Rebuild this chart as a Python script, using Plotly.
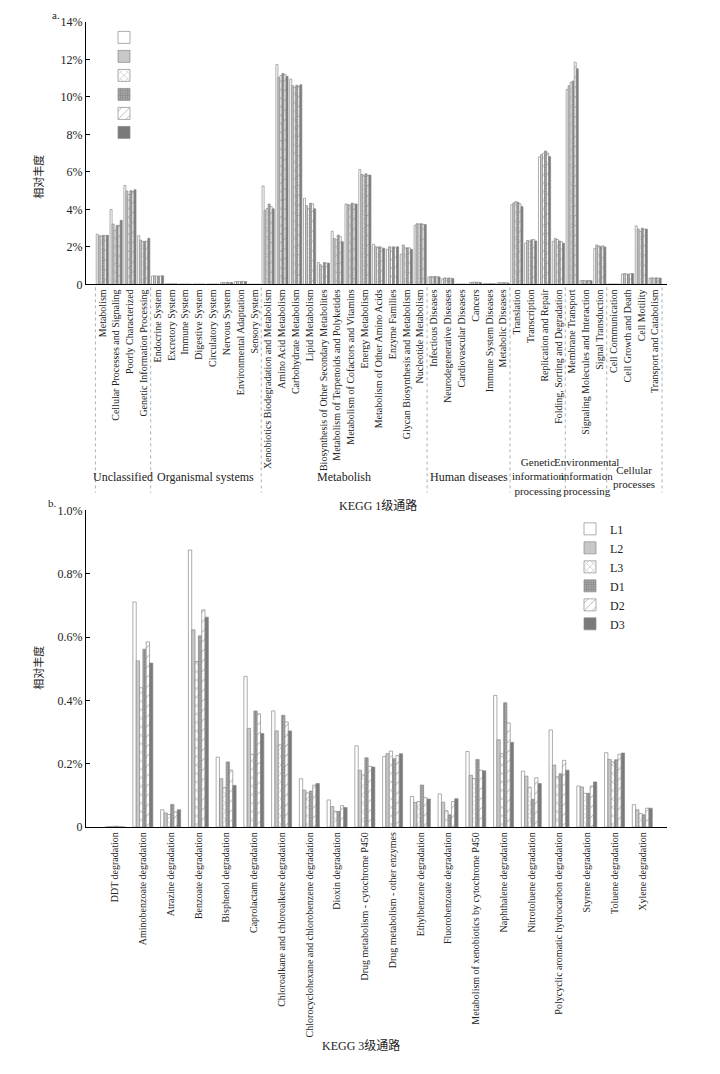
import plotly.graph_objects as go

# ---------------- data ----------------
series = ["L1", "L2", "L3", "D1", "D2", "D3"]

a_groups = ["Unclassified", "Organismal systems", "Metabolish", "Human diseases",
            "Genetic<br>information<br>processing", "Environmental<br>information<br>processing",
            "Cellular<br>processes"]
a_group_sizes = [4, 8, 12, 6, 4, 3, 4]
a_categories = [
    "Metabolism", "Cellular Processes and Signaling", "Poorly Characterized", "Genetic Information Processing",
    "Endocrine System", "Excretory System", "Immune System", "Digestive System", "Circulatory System",
    "Nervous System", "Environmental Adaptation", "Sensory System",
    "Xenobiotics Biodegradation and Metabolism", "Amino Acid Metabolism", "Carbohydrate Metabolism",
    "Lipid Metabolism", "Biosynthesis of Other Secondary Metabolites", "Metabolism of Terpenoids and Polyketides",
    "Metabolism of Cofactors and Vitamins", "Energy Metabolism", "Metabolism of Other Amino Acids",
    "Enzyme Families", "Glycan Biosynthesis and Metabolism", "Nucleotide Metabolism",
    "Infectious Diseases", "Neurodegenerative Diseases", "Cardiovascular Diseases", "Cancers",
    "Immune System Diseases", "Metabolic Diseases",
    "Translation", "Transcription", "Replication and Repair", "Folding, Sorting and Degradation",
    "Membrane Transport", "Signaling Molecules and Interaction", "Signal Transduction",
    "Cell Communication", "Cell Growth and Death", "Cell Motility", "Transport and Catabolism",
]
a_L1 = [2.68, 4.00, 5.28, 2.60, 0.45, 0.03, 0.02, 0.02, 0.02, 0.10, 0.15, 0.01,
        5.25, 11.73, 10.95, 4.59, 1.17, 2.84, 4.29, 6.13, 2.14, 1.87, 1.61, 3.15,
        0.40, 0.30, 0.02, 0.10, 0.04, 0.08, 4.25, 2.20, 6.80, 2.30, 10.40, 0.20, 1.92,
        0.02, 0.55, 3.12, 0.34]
a_L2 = [2.60, 3.22, 4.98, 2.36, 0.46, 0.03, 0.02, 0.02, 0.02, 0.09, 0.16, 0.01,
        3.94, 11.03, 10.60, 4.20, 1.05, 2.45, 4.26, 5.87, 2.01, 2.01, 2.10, 3.24,
        0.42, 0.35, 0.02, 0.11, 0.04, 0.09, 4.35, 2.35, 6.92, 2.45, 10.60, 0.21, 2.10,
        0.02, 0.58, 2.95, 0.35]
a_L3 = [2.58, 2.90, 4.80, 2.28, 0.44, 0.03, 0.02, 0.02, 0.02, 0.10, 0.15, 0.01,
        4.05, 11.15, 10.50, 4.05, 0.96, 2.38, 4.22, 5.80, 1.98, 1.95, 1.95, 3.22,
        0.41, 0.32, 0.02, 0.12, 0.04, 0.09, 4.42, 2.30, 7.00, 2.40, 10.78, 0.20, 2.05,
        0.02, 0.56, 2.82, 0.33]
a_D1 = [2.62, 3.15, 5.00, 2.30, 0.45, 0.03, 0.02, 0.02, 0.02, 0.11, 0.16, 0.01,
        4.29, 11.25, 10.62, 4.33, 1.17, 2.63, 4.33, 5.90, 2.01, 2.01, 1.95, 3.24,
        0.42, 0.34, 0.02, 0.12, 0.04, 0.09, 4.38, 2.38, 7.12, 2.32, 10.85, 0.20, 2.02,
        0.02, 0.55, 3.00, 0.35]
a_D2 = [2.60, 3.15, 4.95, 2.30, 0.45, 0.03, 0.02, 0.02, 0.02, 0.10, 0.16, 0.01,
        4.15, 11.20, 10.55, 4.30, 1.14, 2.55, 4.29, 5.82, 1.95, 1.95, 1.95, 3.20,
        0.41, 0.33, 0.02, 0.11, 0.04, 0.09, 4.30, 2.40, 7.00, 2.28, 11.85, 0.21, 2.06,
        0.02, 0.57, 2.95, 0.34]
a_D3 = [2.62, 3.42, 5.05, 2.46, 0.46, 0.03, 0.02, 0.02, 0.02, 0.10, 0.15, 0.01,
        4.03, 11.10, 10.65, 4.03, 1.14, 2.28, 4.29, 5.83, 1.93, 2.01, 1.87, 3.19,
        0.40, 0.31, 0.02, 0.10, 0.04, 0.08, 4.15, 2.32, 6.82, 2.20, 11.50, 0.20, 2.00,
        0.02, 0.58, 2.95, 0.34]
a_tickvals = [0, 2, 4, 6, 8, 10, 12, 14]
a_ticktext = ["0", "2%", "4%", "6%", "8%", "10%", "12%", "14%"]

b_categories = [
    "DDT degradation", "Aminobenzoate degradation", "Atrazine degradation", "Benzoate degradation",
    "Bisphenol degradation", "Caprolactam degradation", "Chloroalkane and chloroalkene degradation",
    "Chlorocyclohexane and chlorobenzene degradation", "Dioxin degradation",
    "Drug metabolism - cytochrome P450", "Drug metabolism - other enzymes", "Ethylbenzene degradation",
    "Fluorobenzoate degradation", "Metabolism of xenobiotics by cytochrome P450", "Naphthalene degradation",
    "Nitrotoluene degradation", "Polycyclic aromatic hydrocarbon degradation", "Styrene degradation",
    "Toluene degradation", "Xylene degradation",
]
b_L1 = [0.001, 0.711, 0.055, 0.875, 0.221, 0.476, 0.367, 0.153, 0.086, 0.257,
        0.223, 0.097, 0.105, 0.239, 0.416, 0.177, 0.307, 0.130, 0.235, 0.071]
b_L2 = [0.002, 0.525, 0.045, 0.623, 0.153, 0.312, 0.304, 0.117, 0.065, 0.180,
        0.232, 0.078, 0.079, 0.164, 0.276, 0.161, 0.196, 0.127, 0.214, 0.055]
b_L3 = [0.003, 0.440, 0.040, 0.523, 0.125, 0.230, 0.260, 0.108, 0.050, 0.165,
        0.240, 0.081, 0.052, 0.154, 0.232, 0.126, 0.159, 0.107, 0.206, 0.043]
b_D1 = [0.003, 0.562, 0.072, 0.604, 0.206, 0.367, 0.353, 0.114, 0.050, 0.219,
        0.216, 0.133, 0.039, 0.214, 0.393, 0.088, 0.169, 0.107, 0.213, 0.039]
b_D2 = [0.002, 0.585, 0.048, 0.686, 0.180, 0.358, 0.332, 0.133, 0.068, 0.192,
        0.226, 0.093, 0.081, 0.180, 0.329, 0.156, 0.211, 0.130, 0.230, 0.060]
b_D3 = [0.001, 0.518, 0.055, 0.663, 0.132, 0.296, 0.304, 0.138, 0.062, 0.190,
        0.232, 0.089, 0.090, 0.178, 0.268, 0.138, 0.180, 0.143, 0.234, 0.060]
b_tickvals = [0, 0.2, 0.4, 0.6, 0.8, 1.0]
b_ticktext = ["0", "0.2%", "0.4%", "0.6%", "0.8%", "1.0%"]

a_values = [a_L1, a_L2, a_L3, a_D1, a_D2, a_D3]
b_values = [b_L1, b_L2, b_L3, b_D1, b_D2, b_D3]

# ---------------- styles ----------------
OFF = 8                      # default page margin of the html body
W, H = 720 - OFF, 1074 - OFF
SERIF = "Liberation Serif, Times New Roman, serif"
CJK = "Liberation Serif, Noto Sans CJK SC, serif"
styles = [
    dict(color="white", pattern=dict(shape="")),
    dict(color="#c8c8c8", pattern=dict(shape="")),
    dict(color="white", pattern=dict(shape="x", fgcolor="#333333", bgcolor="white", size=6, solidity=0.15)),
    dict(color="#9a9a9a", pattern=dict(shape="+", fgcolor="#555555", bgcolor="#a8a8a8", size=3, solidity=0.35)),
    dict(color="white", pattern=dict(shape="/", fgcolor="#333333", bgcolor="white", size=7, solidity=0.12)),
    dict(color="#7a7a7a", pattern=dict(shape="")),
]


def px_x(p):
    return (p - OFF) / W


def px_y(p):
    return 1 - (p - OFF) / H


fig = go.Figure()

a_x = list(range(len(a_categories)))
b_x = list(range(len(b_categories)))
ga, gb = 0.88, 0.72
wa, wb = ga / len(series), gb / len(series)

for k, s in enumerate(series):
    st = styles[k]
    fig.add_trace(go.Bar(
        x=a_x, y=a_values[k], name="", legend="legend",
        xaxis="x", yaxis="y", width=wa, offset=-ga / 2 + k * wa,
        marker=dict(color=st["color"], pattern=st["pattern"], line=dict(color="#8a8a8a", width=0.7)),
    ))
for k, s in enumerate(series):
    st = styles[k]
    fig.add_trace(go.Bar(
        x=b_x, y=b_values[k], name=s, legend="legend2",
        xaxis="x2", yaxis="y2", width=wb, offset=-gb / 2 + k * wb,
        marker=dict(color=st["color"], pattern=st["pattern"], line=dict(color="#8a8a8a", width=0.7)),
    ))

# group separators and labels for panel a
shapes = []
annotations = []
start = 0
bounds = [-0.5]
for g, n in zip(a_groups, a_group_sizes):
    end = start + n
    bounds.append(end - 0.5)
    multi = "<br>" in g
    annotations.append(dict(x=(start + end - 1) / 2, y=px_y(476), xref="x", yref="paper",
                            text=g, showarrow=False, borderpad=0,
                            font=dict(family=SERIF, size=11 if multi else 12, color="#222"),
                            xanchor="center", yanchor="middle", align="center"))
    start = end
for b in bounds:
    shapes.append(dict(type="line", xref="x", yref="paper", x0=b, x1=b,
                       y0=px_y(284), y1=px_y(492), line=dict(color="#999", width=0.8, dash="dot")))

annotations += [
    dict(x=px_x(50), y=px_y(8), xref="paper", yref="paper", text="a.", showarrow=False,
         font=dict(family=SERIF, size=11, color="#222"), xanchor="left", yanchor="middle"),
    dict(x=px_x(46), y=px_y(502), xref="paper", yref="paper", text="b.", showarrow=False,
         font=dict(family=SERIF, size=11, color="#222"), xanchor="left", yanchor="middle"),
    dict(x=px_x(30), y=px_y(148), xref="paper", yref="paper", text="相对丰度", showarrow=False,
         textangle=-90, font=dict(family=CJK, size=11, color="#222")),
    dict(x=px_x(30), y=px_y(670), xref="paper", yref="paper", text="相对丰度", showarrow=False,
         textangle=-90, font=dict(family=CJK, size=11, color="#222")),
    dict(x=px_x(378), y=px_y(505), xref="paper", yref="paper", text="KEGG 1级通路", showarrow=False,
         font=dict(family=CJK, size=12, color="#222")),
    dict(x=px_x(361), y=px_y(1062), xref="paper", yref="paper", text="KEGG 3级通路", showarrow=False,
         font=dict(family=CJK, size=12, color="#222")),
]

axis_common = dict(showgrid=False, zeroline=False, showline=True, linecolor="black", linewidth=1)

fig.update_layout(
    width=W, height=H, margin=dict(l=0, r=0, t=0, b=0),
    paper_bgcolor="white", plot_bgcolor="white",
    barmode="overlay", showlegend=True,
    font=dict(family=SERIF, color="#222"),
    xaxis=dict(domain=[px_x(86), px_x(667)], range=[-1.18, 40.86], anchor="y",
               tickmode="array", tickvals=a_x, ticktext=a_categories, tickangle=-90,
               ticks="", tickfont=dict(family=SERIF, size=10, color="#222"), **axis_common),
    yaxis=dict(domain=[px_y(281), px_y(15)], range=[0, 14], anchor="x",
               tickmode="array", tickvals=a_tickvals, ticktext=a_ticktext,
               ticks="inside", ticklen=4, tickcolor="black",
               tickfont=dict(family=SERIF, size=12, color="#222"), **axis_common),
    xaxis2=dict(domain=[px_x(86), px_x(667)], range=[-1.05, 19.89], anchor="y2",
                tickmode="array", tickvals=b_x, ticktext=b_categories, tickangle=-90,
                ticks="", tickfont=dict(family=SERIF, size=10, color="#222"), **axis_common),
    yaxis2=dict(domain=[px_y(831), px_y(510)], range=[0, 1.0], anchor="x2",
                tickmode="array", tickvals=b_tickvals, ticktext=b_ticktext,
                ticks="inside", ticklen=4, tickcolor="black",
                tickfont=dict(family=SERIF, size=12, color="#222"), **axis_common),
    legend=dict(x=px_x(104), y=px_y(16), xanchor="left", yanchor="top",
                font=dict(family=SERIF, size=8), bgcolor="rgba(0,0,0,0)",
                tracegroupgap=0, itemwidth=30),
    legend2=dict(x=px_x(570), y=px_y(514), xanchor="left", yanchor="top",
                 font=dict(family=SERIF, size=12, color="#222"), bgcolor="rgba(0,0,0,0)",
                 tracegroupgap=0, itemwidth=30),
    shapes=shapes, annotations=annotations,
)

fig.write_html("out.html")
